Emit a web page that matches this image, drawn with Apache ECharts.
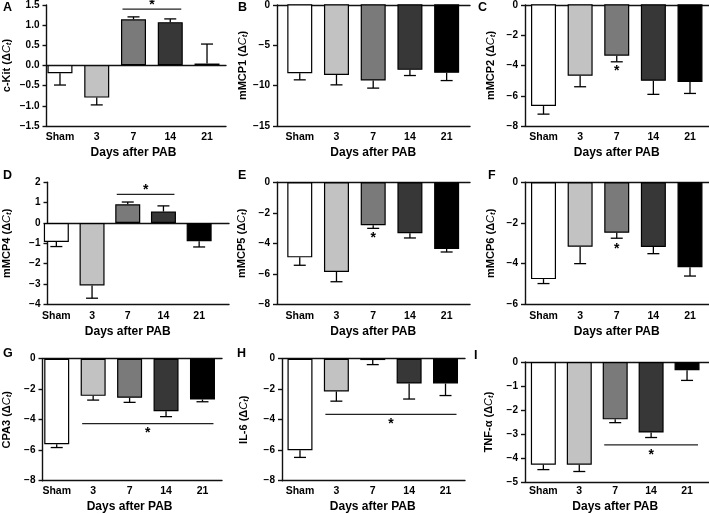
<!DOCTYPE html>
<html>
<head>
<meta charset="utf-8">
<script src="https://cdn.jsdelivr.net/npm/echarts@6/dist/echarts.min.js"></script>
<style>
html,body{margin:0;padding:0;background:#fff;}
#chart{width:709px;height:514px;}
</style>
</head>
<body>
<div id="chart"></div>
<script>
// ---------- data ----------
const categories = ['Sham', '3', '7', '14', '21'];
const xTitle = 'Days after PAB';

const cKit      = [-0.20, -0.80, 1.13, 1.06, 0.04];
const cKitErr   = [0.29, 0.18, 0.06, 0.08, 0.48];
const mMCP1     = [-8.49, -8.70, -9.40, -8.08, -8.45];
const mMCP1Err  = [0.82, 1.23, 0.93, 0.70, 0.95];
const mMCP2     = [-6.69, -4.70, -3.38, -5.03, -5.11];
const mMCP2Err  = [0.53, 0.72, 0.40, 0.89, 0.75];
const mMCP4     = [-0.93, -3.07, 0.92, 0.56, -0.90];
const mMCP4Err  = [0.23, 0.63, 0.11, 0.28, 0.28];
const mMCP5     = [-4.92, -5.88, -2.82, -3.34, -4.37];
const mMCP5Err  = [0.52, 0.64, 0.20, 0.31, 0.20];
const mMCP6     = [-4.76, -3.17, -2.48, -3.18, -4.18];
const mMCP6Err  = [0.22, 0.83, 0.27, 0.33, 0.43];
const cpa3      = [-5.64, -2.45, -2.58, -3.47, -2.69];
const cpa3Err   = [0.22, 0.28, 0.30, 0.35, 0.15];
const il6       = [-6.03, -2.16, -0.09, -1.64, -1.64];
const il6Err    = [0.48, 0.64, 0.30, 1.02, 0.79];
const tnfa      = [-4.35, -4.35, -2.43, -2.99, -0.35];
const tnfaErr   = [0.21, 0.29, 0.14, 0.21, 0.43];

// y-axis tick ranges [min, max, interval, decimals]
const ticksA = [-1.5, 1.5, 0.5, 1];
const ticksB = [-15, 0, 5, 0];
const ticksC = [-8, 0, 2, 0];
const ticksD = [-4, 2, 1, 0];
const ticksE = [-8, 0, 2, 0];
const ticksF = [-6, 0, 2, 0];
const ticksG = [-8, 0, 2, 0];
const ticksH = [-8, 0, 2, 0];
const ticksI = [-5, 0, 1, 0];

// significance annotations: line [fromIdx, toIdx, lineValue, starSide] or star under bar [idx, starValue]
const sigLineA = [2, 3, 1.38, 'above'];
const sigLineD = [2, 3, 1.41, 'above'];
const sigLineG = [1, 4, -4.28, 'below'];
const sigLineH = [1, 4, -3.67, 'below'];
const sigLineI = [2, 4, -3.51, 'below'];
const starC = [2, -4.42];
const starE = [2, -3.66];
const starF = [2, -3.28];

const yNames = ['c-Kit', 'mMCP1', 'mMCP2', 'mMCP4', 'mMCP5', 'mMCP6', 'CPA3', 'IL-6', 'TNF-\u03b1'];
const letters = ['A', 'B', 'C', 'D', 'E', 'F', 'G', 'H', 'I'];

// ---------- styling / layout ----------
const barColors = ['#ffffff', '#c2c2c2', '#7a7a7a', '#373737', '#000000'];
const FONT = '"Liberation Sans", Arial, sans-serif';
const AX = '#111';

const panels = [
  {v: cKit,  e: cKitErr,  t: ticksA, sig: sigLineA, star: null},
  {v: mMCP1, e: mMCP1Err, t: ticksB, sig: null, star: null},
  {v: mMCP2, e: mMCP2Err, t: ticksC, sig: null, star: starC},
  {v: mMCP4, e: mMCP4Err, t: ticksD, sig: sigLineD, star: null},
  {v: mMCP5, e: mMCP5Err, t: ticksE, sig: null, star: starE},
  {v: mMCP6, e: mMCP6Err, t: ticksF, sig: null, star: starF},
  {v: cpa3,  e: cpa3Err,  t: ticksG, sig: sigLineG, star: null},
  {v: il6,   e: il6Err,   t: ticksH, sig: sigLineH, star: null},
  {v: tnfa,  e: tnfaErr,  t: ticksI, sig: sigLineI, star: null}
];

// layout: y-axis x, band start, band end, frame right, top, bottom, yName gap, letter pos
const layout = [
  {ax: 42,  b0: 41.6,  b1: 225.4, fr: 226, top: 4.3,   bot: 126,   gap: 34, lx: 3,   ly: 1},
  {ax: 277, b0: 281.4, b1: 465,   fr: 470, top: 4.3,   bot: 126,   gap: 27, lx: 238, ly: 1},
  {ax: 525, b0: 525.2, b1: 708.3, fr: 709, top: 4.3,   bot: 126,   gap: 28, lx: 478, ly: 1},
  {ax: 42,  b0: 38.5,  b1: 217,   fr: 229, top: 182.3, bot: 304.3, gap: 35, lx: 3,   ly: 169},
  {ax: 277, b0: 281.4, b1: 465,   fr: 470, top: 182.3, bot: 304.3, gap: 29, lx: 238, ly: 169},
  {ax: 525, b0: 525.2, b1: 708.3, fr: 709, top: 182.3, bot: 304.3, gap: 28, lx: 488, ly: 169},
  {ax: 40,  b0: 38.5,  b1: 220.7, fr: 222, top: 358.7, bot: 480.7, gap: 30, lx: 3,   ly: 347},
  {ax: 282, b0: 281.8, b1: 463.7, fr: 465, top: 358.7, bot: 480.7, gap: 32, lx: 237, ly: 347},
  {ax: 525, b0: 525.4, b1: 705,   fr: 709, top: 362,   bot: 482,   gap: 30, lx: 474, ly: 349}
];

const grid = [], xAxis = [], yAxis = [], series = [], title = [];

panels.forEach((p, i) => {
  const L = layout[i];
  const [mn, mx, iv, dec] = p.t;
  const gF = 2 * i, gD = 2 * i + 1;
  grid.push({left: L.ax, top: L.top, width: L.fr - L.ax, height: L.bot - L.top});
  grid.push({left: L.b0, top: L.top, width: L.b1 - L.b0, height: L.bot - L.top});
  const lineStyle = {color: AX, width: 1.4};
  // frame: bottom line
  xAxis.push({gridIndex: gF, type: 'value', min: 0, max: 1, position: 'bottom',
    axisLine: {show: true, onZero: false, lineStyle}, axisTick: {show: false},
    axisLabel: {show: false}, splitLine: {show: false}});
  // frame: zero line
  xAxis.push({gridIndex: gF, type: 'value', min: 0, max: 1, position: 'top',
    axisLine: {show: true, onZero: true, lineStyle}, axisTick: {show: false},
    axisLabel: {show: false}, splitLine: {show: false}});
  // data axis with category labels
  xAxis.push({gridIndex: gD, type: 'category', data: categories,
    axisLine: {show: false, onZero: false}, axisTick: {show: false},
    axisLabel: {show: true, interval: 0, hideOverlap: false, margin: 6, color: '#000', fontFamily: FONT, fontWeight: 'bold', fontSize: 10.5},
    name: xTitle, nameLocation: 'middle', nameGap: 21,
    nameTextStyle: {color: '#000', fontFamily: FONT, fontWeight: 'bold', fontSize: 12},
    splitLine: {show: false}});
  yAxis.push({gridIndex: gF, type: 'value', min: mn, max: mx, interval: iv,
    axisLine: {show: true, onZero: false, lineStyle},
    axisTick: {show: true, length: 4, lineStyle},
    axisLabel: {margin: 7, color: '#000', fontFamily: FONT, fontWeight: 'bold', fontSize: 10,
      formatter: v => (v < 0 ? '\u2212' : '') + Math.abs(v).toFixed(dec)},
    splitLine: {show: false},
    name: yNames[i] + ' (\u0394{it|C}{sub|t})', nameLocation: 'middle', nameGap: L.gap,
    nameTextStyle: {color: '#000', fontFamily: FONT, fontWeight: 'bold', fontSize: 11,
      rich: {it: {fontStyle: 'italic', fontWeight: 'normal', fontFamily: FONT, fontSize: 11, color: '#000'},
             sub: {fontStyle: 'italic', fontFamily: FONT, fontSize: 8, color: '#000', padding: [4, 0, 0, 0]}}}});
  yAxis.push({gridIndex: gD, type: 'value', min: mn, max: mx, show: false});

  const xi = 3 * i + 2, yi = 2 * i + 1;
  series.push({type: 'bar', xAxisIndex: xi, yAxisIndex: yi, barWidth: 25, silent: true,
    data: p.v.map((v, k) => ({value: v, itemStyle: {color: barColors[k], borderColor: '#000', borderWidth: 1.2}})),
    animation: false});
  series.push({type: 'custom', xAxisIndex: xi, yAxisIndex: yi, silent: true, animation: false, z: 5,
    data: p.v.map((v, k) => [k, v, p.e[k]]),
    renderItem: (params, api) => {
      const k = api.value(0), m = api.value(1), e = api.value(2);
      const end = m >= 0 ? m + e : m - e;
      const p0 = api.coord([k, m]), p1 = api.coord([k, end]);
      const st = {stroke: '#000', lineWidth: 1.3};
      return {type: 'group', children: [
        {type: 'line', shape: {x1: p0[0], y1: p0[1], x2: p1[0], y2: p1[1]}, style: st},
        {type: 'line', shape: {x1: p1[0] - 6, y1: p1[1], x2: p1[0] + 6, y2: p1[1]}, style: st}
      ]};
    }});
  if (p.sig) {
    series.push({type: 'custom', xAxisIndex: xi, yAxisIndex: yi, silent: true, animation: false, z: 6,
      data: [p.sig.slice(0, 3)],
      renderItem: (params, api) => {
        const a = api.value(0), b = api.value(1), y = api.value(2);
        const pa = api.coord([a, y]), pb = api.coord([b, y]);
        const x1 = pa[0] - 11, x2 = pb[0] + 11, mid = (x1 + x2) / 2;
        const above = p.sig[3] === 'above';
        return {type: 'group', children: [
          {type: 'line', shape: {x1, y1: pa[1], x2, y2: pa[1]}, style: {stroke: '#222', lineWidth: 1.2}},
          {type: 'text', style: {text: '*', x: mid, y: pa[1] + (above ? -4 : 10), align: 'center', verticalAlign: 'middle',
            font: 'bold 14px "Liberation Sans", Arial, sans-serif', fill: '#000'}}
        ]};
      }});
  }
  if (p.star) {
    series.push({type: 'custom', xAxisIndex: xi, yAxisIndex: yi, silent: true, animation: false, z: 6,
      data: [p.star],
      renderItem: (params, api) => {
        const c = api.coord([api.value(0), api.value(1)]);
        return {type: 'text', style: {text: '*', x: c[0], y: c[1], align: 'center', verticalAlign: 'middle',
          font: 'bold 14px "Liberation Sans", Arial, sans-serif', fill: '#000'}};
      }});
  }
  title.push({text: letters[i], left: L.lx, top: L.ly, padding: 0,
    textStyle: {fontFamily: FONT, fontWeight: 'bold', fontSize: 12.5, color: '#000'}});
});

const chart = echarts.init(document.getElementById('chart'), null, {renderer: 'canvas'});
chart.setOption({animation: false, backgroundColor: '#fff', title, grid, xAxis, yAxis, series});
</script>
</body>
</html>
